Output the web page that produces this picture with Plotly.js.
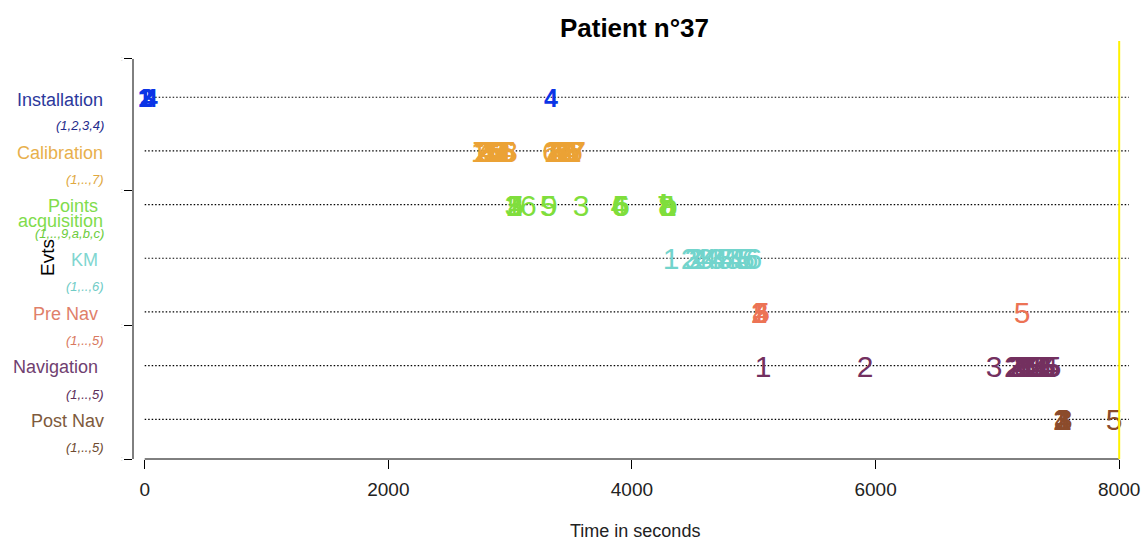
<!DOCTYPE html>
<html>
<head>
<meta charset="utf-8">
<script src="https://cdn.plot.ly/plotly-3.0.1.min.js"></script>
<style>html,body{margin:0;padding:0;background:#fff;}#chart{width:1142px;height:541px;}</style>
</head>
<body>
<div id="chart"></div>
<script>
// ---- data ----
const chartTitle = "Patient n°37";
const xTitle = "Time in seconds";
const yTitle = "Evts";
const categories = ["Installation", "Calibration", "Points acquisition", "KM", "Pre Nav", "Navigation", "Post Nav"];
const subtitles = ["(1,2,3,4)", "(1,..,7)", "(1,..,9,a,b,c)", "(1,..,6)", "(1,..,5)", "(1,..,5)", "(1,..,5)"];
const catY = [7, 6, 5, 4, 3, 2, 1];
const xTicks = [0, 2000, 4000, 6000, 8000];
const endTime = 8000;
const lineEnd = 8080;

const installTimes = [0, 10, 22, 50, 3336];
const installLabels = ["1", "2", "3", "4", "4"];

const calibTimes = [2745, 2758, 2770, 2783, 2795, 2808, 2820, 2833, 2845, 2858, 2870, 2883, 2895, 2908, 2920, 2933, 2945, 2958, 2970, 2983, 2995,
                    3330, 3343, 3355, 3368, 3380, 3393, 3405, 3418, 3430, 3443, 3455, 3468, 3480, 3493, 3505, 3518, 3530, 3543, 3555];
const calibLabels = ["1", "7", "2", "2", "3", "3", "4", "4", "5", "5", "6", "6", "7", "5", "3", "2", "4", "1", "6", "5", "3",
                     "6", "1", "2", "3", "4", "5", "6", "7", "7", "6", "7", "2", "3", "4", "5", "1", "6", "7", "7"];

const pointsTimes = [3022, 3030, 3036, 3044, 3052, 3150, 3312, 3322, 3583, 3892, 3900, 3908, 3915, 4275, 4282, 4288, 4294, 4300, 4306];
const pointsLabels = ["3", "1", "2", "5", "4", "6", "5", "9", "3", "4", "6", "5", "6", "7", "8", "a", "b", "c", "b"];

const kmTimes = [4321, 4470, 4500, 4530, 4560, 4600, 4630, 4660, 4690, 4720, 4760, 4800, 4830, 4860, 4900, 4940, 4970, 5000];
const kmLabels = ["1", "2", "3", "2", "4", "3", "4", "4", "3", "4", "5", "4", "5", "4", "5", "5", "6", "6"];

const preNavTimes = [5040, 5046, 5052, 5058, 5064, 7202];
const preNavLabels = ["1", "2", "3", "4", "5", "5"];

const navTimes = [5076, 5913, 6973, 7122, 7135, 7148, 7162, 7175, 7190, 7205, 7220, 7235, 7250, 7265, 7280, 7295, 7310, 7325,
                  7340, 7355, 7370, 7385, 7400, 7415, 7430, 7445, 7458];
const navLabels = ["1", "2", "3", "2", "2", "3", "2", "3", "4", "3", "4", "4", "5", "4", "5", "4", "5", "5",
                   "3", "4", "5", "4", "5", "5", "4", "5", "5"];

const postNavTimes = [7520, 7526, 7532, 7538, 7544, 7550, 7958];
const postNavLabels = ["1", "2", "3", "4", "1", "3", "5"];

// ---- styles ----
const FONT = "Liberation Sans, Arial, sans-serif";
const markColors = ["#0a34e6", "#eba235", "#7fde3c", "#72d4cc", "#ec7355", "#73305f", "#8b4b2b"];
const labelColors = ["#2b389c", "#e8b04c", "#80dc4c", "#7fd6d0", "#e0806a", "#704070", "#7e5a3c"];
const subColors = ["#1f2c8c", "#e0a840", "#6ccc3c", "#70ccc6", "#d87860", "#5c2e5a", "#6e4a30"];

const seriesTimes = [installTimes, calibTimes, pointsTimes, kmTimes, preNavTimes, navTimes, postNavTimes];
const seriesLabels = [installLabels, calibLabels, pointsLabels, kmLabels, preNavLabels, navLabels, postNavLabels];

const L = 133, R = 6, T = 41, B = 82;
const W = 1142, H = 541;
const pw = W - L - R, ph = H - T - B;
const yMin = 0.2603, yMax = 8.048;
const unit = ph / (yMax - yMin);
function px2paperX(px) { return (px - L) / pw; }
function px2paperY(py) { return (H - B - py) / ph; }
const textDrop = 3.5; // px the digits sit lower than the guide line

const traces = [];
// dotted guide lines
catY.forEach(function (yv) {
  traces.push({
    x: [0, lineEnd], y: [yv, yv], mode: "lines", type: "scatter",
    line: {color: "#000", width: 1.2, dash: "1.5px,2px"}, hoverinfo: "skip", showlegend: false
  });
});
// text marks
seriesTimes.forEach(function (times, i) {
  traces.push({
    x: times,
    y: times.map(function () { return catY[i] - textDrop / unit; }),
    text: seriesLabels[i],
    mode: "text", type: "scatter",
    textposition: "middle center",
    textfont: {family: FONT, size: i === 0 ? 25 : 30, color: markColors[i], weight: i === 0 ? "bold" : "normal"},
    cliponaxis: false, showlegend: false, hoverinfo: "skip"
  });
});

const annotations = [];
const labelRight = [105, 105, 100, 100, 100, 100, 106];
const labelOffsetPx = [2.7, 2.3, 0, 1.7, 1.8, 1.5, 1.2];
categories.forEach(function (c, i) {
  if (i === 2) {
    annotations.push({xref: "paper", yref: "y", x: px2paperX(100), y: catY[i] - 1.5 / unit, text: "Points",
      showarrow: false, xanchor: "right", yanchor: "middle", font: {family: FONT, size: 18, color: labelColors[i]}});
    annotations.push({xref: "paper", yref: "y", x: px2paperX(105), y: catY[i] - 16.5 / unit, text: "acquisition",
      showarrow: false, xanchor: "right", yanchor: "middle", font: {family: FONT, size: 18, color: labelColors[i]}});
  } else {
    annotations.push({xref: "paper", yref: "y", x: px2paperX(labelRight[i]), y: catY[i] - labelOffsetPx[i] / unit, text: c,
      showarrow: false, xanchor: "right", yanchor: "middle", font: {family: FONT, size: 18, color: labelColors[i]}});
  }
  annotations.push({xref: "paper", yref: "y", x: px2paperX(106), y: catY[i] - 28.5 / unit, text: "<i>" + subtitles[i] + "</i>",
    showarrow: false, xanchor: "right", yanchor: "middle", font: {family: FONT, size: 13, color: subColors[i]}});
});
annotations.push({xref: "paper", yref: "paper", x: px2paperX(47), y: px2paperY(258), text: yTitle, textangle: -90,
  showarrow: false, xanchor: "center", yanchor: "middle", font: {family: FONT, size: 19, color: "#000"}});
annotations.push({xref: "paper", yref: "paper", x: 0.5, y: px2paperY(531), text: xTitle,
  showarrow: false, xanchor: "center", yanchor: "middle", font: {family: FONT, size: 18, color: "#222"}});

const yTickVals = [0.2603, 2.745, 5.254, 7.713];

const layout = {
  width: W, height: H,
  margin: {l: L, r: R, t: T, b: B, pad: 0},
  paper_bgcolor: "#fff", plot_bgcolor: "#fff",
  title: {text: "<b>" + chartTitle + "</b>", x: 0.5, xref: "paper", y: 1 - 28 / H, yref: "container", yanchor: "middle",
    font: {family: FONT, size: 26, color: "#000"}},
  xaxis: {range: [-96, 8138], tickvals: xTicks, ticktext: xTicks.map(String), ticks: "outside", ticklen: 9,
    tickcolor: "#000", tickwidth: 1, showline: false, showgrid: false, zeroline: false, ticklabelstandoff: 4,
    tickfont: {family: FONT, size: 19, color: "#222"}},
  yaxis: {range: [yMin, yMax], tickvals: yTickVals, ticktext: [":", ":", ":", ":"], ticks: "outside", ticklen: 8,
    tickcolor: "#000", tickwidth: 1, showline: false, showgrid: false, zeroline: false,
    tickfont: {family: FONT, size: 7, color: "#bbb"}},
  shapes: [
    {type: "line", xref: "paper", yref: "y", x0: 0, x1: 0, y0: yTickVals[0], y1: yTickVals[3], line: {color: "#000", width: 1}},
    {type: "line", xref: "x", yref: "paper", x0: xTicks[0], x1: xTicks[4], y0: 0, y1: 0, line: {color: "#000", width: 1}},
    {type: "line", xref: "x", yref: "paper", x0: endTime, x1: endTime, y0: 0, y1: 1, line: {color: "#fff200", width: 2}}
  ],
  annotations: annotations,
  showlegend: false
};

Plotly.newPlot("chart", traces, layout, {staticPlot: true, displayModeBar: false});
</script>
</body>
</html>
